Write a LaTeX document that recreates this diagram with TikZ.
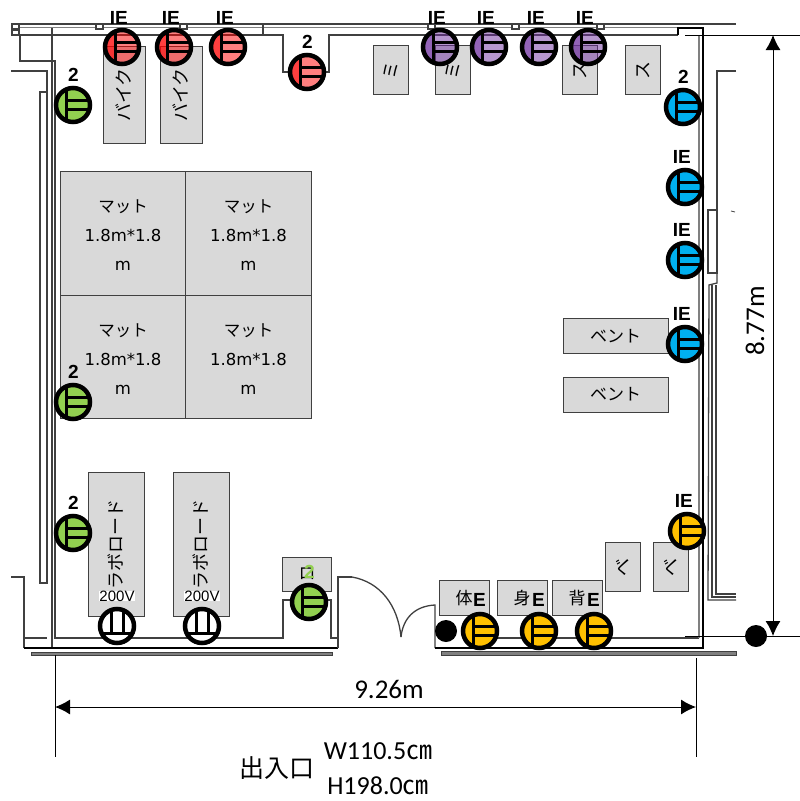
\documentclass[tikz,border=0pt]{standalone}
\usepackage{fontspec}
\usetikzlibrary{arrows.meta}
\setmainfont{Noto Sans CJK JP}
\newfontfamily\latinfont{Carlito}
\newfontfamily\labfont{Liberation Sans}
\newfontfamily\matfont{DejaVu Sans}
\definecolor{boxgrey}{HTML}{D9D9D9}
\definecolor{wallgrey}{HTML}{808080}
\definecolor{linegrey}{HTML}{404040}
\definecolor{oRed}{HTML}{FF0000}
\definecolor{oPurple}{HTML}{7030A0}
\definecolor{oGreen}{HTML}{92D050}
\definecolor{oBlue}{HTML}{00B0F0}
\definecolor{oOrange}{HTML}{FFC000}
\newcommand{\mattext}{\rule{0pt}{16.5pt}マット\\{\matfont 1.8m*1.8}\\{\matfont m}}

\begin{document}
\begin{tikzpicture}
  [x=1pt, y=-1pt,
   wall/.style={draw=linegrey, line width=1.3pt},
   thinwall/.style={draw=wallgrey, line width=1.8pt},
   box/.style={draw=linegrey, fill=boxgrey, line width=1pt, inner sep=0pt, font=\fontsize{18}{18}\selectfont},
   mat/.style={box, minimum width=125.5pt, minimum height=123.5pt, align=center, font=\fontsize{16.5}{29}\selectfont},
   outlet/.style={circle, minimum size=34pt, inner sep=0pt},
   lab/.style={anchor=east, inner sep=0pt, font=\labfont\bfseries\fontsize{19}{19}\selectfont},
   dim/.style={draw=black, line width=1pt},
   dimarrow/.style={dim, {Latex[length=15pt,width=15pt]}-{Latex[length=15pt,width=15pt]}}]
  \useasboundingbox (0,0) rectangle (800,801);

  % building outline
  \draw[wall] (12,24) -- (736,24);
  \draw[thinwall, line width=1pt] (12,27) -- (678,27);
  \draw[wall] (18,35) -- (263,35) -- (283,35) -- (283,72) -- (290,72);
  \draw[wall] (326,72) -- (329,72) -- (329,35) -- (678,35);
  \draw[wall] (263,24) -- (263,35);
  \draw[wall] (20,35) -- (20,61) -- (55,61) -- (55,638) -- (283,638) -- (283,600) -- (293,600);
  \draw[wall] (52,28) -- (52,648);
  \draw[wall] (11,71) -- (47,71) -- (47,583) -- (40,583) -- (40,92) -- (47,92);
  \draw[wall] (11,577) -- (24,577) -- (24,648);
  \draw[wall] (24,638) -- (47,638);
  \draw[wall] (326,600) -- (331,600) -- (331,638) -- (338,638);
  \draw[draw=black, line width=1.5pt] (24,648) -- (338,648);
  \draw[wall] (338,648) -- (338,577) -- (352,577);
  \draw[wall] (352,577) .. controls (380,582) and (398,605) .. (401,637);
  \draw[wall] (401,637) .. controls (403,618) and (415,606) .. (435,605) -- (435,648);
  \draw[draw=black, line width=1.5pt] (435,648) -- (703,648) -- (703,28) -- (678,28) -- (678,35);
  \draw[wall] (480,638) -- (699,638);
  \draw[thinwall] (699,638) -- (699,35);
  \draw[draw=linegrey, fill=wallgrey, line width=.8pt] (31,652) rectangle (332,655);
  \draw[draw=linegrey, fill=wallgrey, line width=.8pt] (441,651) rectangle (736,655);

  % outer right side
  \draw[wall] (736,71) -- (717,71) -- (717,273) -- (708,273) -- (708,210) -- (717,210);
  \draw[wall] (717,273) -- (717,283) -- (709,285) -- (708,600) -- (736,600);
  \draw[wall] (712,285) -- (712,597) -- (736,597);
  \draw[wall] (716,285) -- (716,594) -- (736,594);
  \draw[wall, line width=.8pt] (731,211) -- (735,212);

  % window marks
  \foreach \sx/\sy in {12/24,12/30,96/24,180/24,428/24,512/24,597/24}
    \draw[wall, fill=white] (\sx,\sy) rectangle (\sx+7,\sy+5);

  % equipment
  \node[mat] (mat1) at (123,233.7) {\mattext};
  \node[mat] (mat2) at (248.5,233.7) {\mattext};
  \node[mat] (mat3) at (123,357.2) {\mattext};
  \node[mat] (mat4) at (248.5,357.2) {\mattext};

  \foreach \n/\x/\y/\w/\h/\t in {bike1/124/95/97/42/バイク,bike2/181/95/97/42/バイク,
    smith1/391/70/49/35/ミ,smith2/453/70/49/35/ミ,smith3/580/70/49/35/ス,smith4/643/70/49/35/ス,
    lab1/116/544/144/56/ラボロード,lab2/201/544/144/56/ラボロード,
    bk1/623/567/49/35/ベ,bk2/671/567/49/35/ベ}
    \node[box, rotate=90, minimum width=\w pt, minimum height=\h pt] (\n) at (\x,\y) {\t};

  \foreach \n/\x/\y/\w/\h/\t in {bench1/615.5/336/105/35/ベント,bench2/615.5/394.5/105/35/ベント,
    body/464/598/50/35/体,mid/522/598/50/35/身,back/577/598/50/35/背,door/307/574/49/34/ロ}
    \node[box, minimum width=\w pt, minimum height=\h pt, font=\fontsize{17}{17}\selectfont] (\n) at (\x,\y) {\t};

  % dimensions
  \coordinate (topR) at (685,35);
  \coordinate (topE) at (800,35);
  \coordinate (botR) at (685,636);
  \coordinate (botE) at (800,636);
  \coordinate (upA) at (773,35);
  \coordinate (upB) at (773,636);
  \coordinate (leftA) at (55,655);
  \coordinate (leftB) at (55,757);
  \coordinate (rightA) at (696,658);
  \coordinate (rightB) at (696,757);
  \coordinate (wideA) at (55,707);
  \coordinate (wideB) at (696,707);
  \foreach \from/\to in {topR/topE,botR/botE,leftA/leftB,rightA/rightB}
  \draw[dim] (\from) -- (\to);
  \draw[dimarrow] (upA) -- (upB);
  \draw[dimarrow] (wideA) -- (wideB);

  \node[rotate=90, font=\latinfont\fontsize{27}{27}\selectfont] (height) at (755,321) {8.77m};
  \node[font=\latinfont\fontsize{27}{27}\selectfont] (width) at (389,689) {9.26m};
  \node[font=\fontsize{25}{25}\selectfont] (entry) at (277,768) {出入口};
  \node[font=\fontsize{26}{26}\selectfont] (entryW) at (378,751) {{\latinfont W110.5}㎝};
  \node[font=\fontsize{26}{26}\selectfont] (entryH) at (378,786) {{\latinfont H198.0}㎝};

  \fill (446,631) circle (11pt) node (dot1) {};
  \fill (756,636) circle (11pt) node (dot2) {};

  % outlets
  \foreach \n/\x/\y/\c/\o/\t/\tx/\ty in {
    red1/122/47/oRed/.5/IE/122/18,red2/174/47/oRed/.5/IE/174/18,red3/228/47/oRed/.5/IE/228/18,red4/307/72/oRed/.5/2/307/42,
    pur1/440/47/oPurple/.5/IE/440/18,pur2/489/47/oPurple/.5/IE/489/18,pur3/539/47/oPurple/.5/IE/539/18,pur4/588/47/oPurple/.5/IE/588/18,
    blu1/683/107/oBlue/1/2/683/77,blu2/685/187/oBlue/1/IE/685/157,blu3/685/260/oBlue/1/IE/685/230,blu4/685/344/oBlue/1/IE/685/314,
    ora1/687/531/oOrange/1/IE/687/501,ora2/480/631/oOrange/1/E/480/600,ora3/539/631/oOrange/1/E/539/600,ora4/594/631/oOrange/1/E/594/600,
    grn1/73/105/oGreen/1/2/73/75,grn2/73/402/oGreen/1/2/73/372,grn3/73/533/oGreen/1/2/73/503,grn4/309/602/oGreen/1/\textcolor{oGreen}{2}/309/572}{
    \node[outlet, fill=\c, fill opacity=\o] (\n) at (\x,\y) {};
    \begin{scope}
      \clip (\n) circle (17pt);
      \fill[\c, fill opacity=\o] (\x-20,\y-20) rectangle (\x-7,\y+20);
    \end{scope}
    \draw[line width=3pt] (\x-7,\y-15.5) -- (\x-7,\y+15.5);
    \draw[line width=3pt] (\x-7,\y-4.5) -- (\x+16,\y-4.5);
    \draw[line width=3pt] (\x-7,\y+4.5) -- (\x+16,\y+4.5);
    \draw[line width=4.5pt] (\n) circle (17pt);
    \node[lab] (\n t) at (\tx+6,\ty) {\t};
  }
  \foreach \n/\x/\y in {pow1/117/626,pow2/202/626}{
    \node[outlet, fill=white] (\n) at (\x,\y) {};
    \draw[line width=3pt] (\x-6,\y-16) -- (\x-6,\y+7);
    \draw[line width=3pt] (\x+6,\y-16) -- (\x+6,\y+7);
    \draw[line width=3pt] (\x-16,\y+7) -- (\x+16,\y+7);
    \draw[line width=4.5pt] (\n) circle (17pt);
    \node[fill=white, inner sep=0pt, font=\labfont\fontsize{15}{15}\selectfont] (\n t) at (\x,\y-30) {200V};
  }
\end{tikzpicture}
\end{document}
